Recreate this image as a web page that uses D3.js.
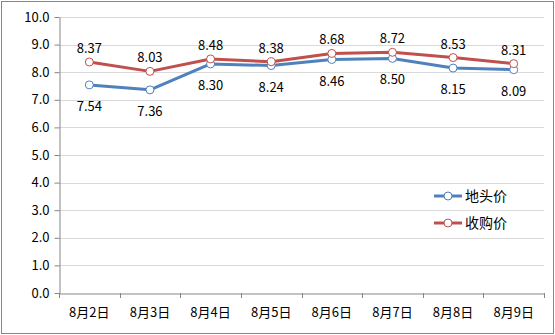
<!DOCTYPE html>
<html><head><meta charset="utf-8">
<script src="https://cdn.jsdelivr.net/npm/d3@7"></script>
<style>body{margin:0;background:#fff}svg{display:block}text{font-family:"Noto Sans CJK SC","Noto Sans",sans-serif}</style>
</head><body><svg id="c" width="555" height="335"></svg>
<script>
const categories = ["8月2日","8月3日","8月4日","8月5日","8月6日","8月7日","8月8日","8月9日"];
const ditou = [7.54,7.36,8.30,8.24,8.46,8.50,8.15,8.09];
const shougou = [8.37,8.03,8.48,8.38,8.68,8.72,8.53,8.31];
const yTicks = [0,1,2,3,4,5,6,7,8,9,10];
const seriesNames = ["地头价","收购价"];
const colors = ["#4f81bd","#c0504d"];

const svg = d3.select("#c");
svg.append("rect").attr("x",1.5).attr("y",1.5).attr("width",552).attr("height",332).attr("fill","#fff").attr("stroke","#868686");
const L=59,R=544,T=17,B=293;
const x = d3.scaleBand().domain(categories).range([L,R]);
const y = d3.scaleLinear().domain([0,10]).range([B,T]);

svg.append("g").selectAll("line").data(yTicks.slice(1)).join("line")
 .attr("x1",L).attr("x2",R).attr("y1",d=>Math.round(y(d))+0.5).attr("y2",d=>Math.round(y(d))+0.5)
 .attr("stroke","#d9d9d9");

const ya = svg.append("g").attr("transform",`translate(${L+0.5},0)`)
 .call(d3.axisLeft(y).tickValues(yTicks).tickFormat(d3.format(".1f")).tickSize(5).tickSizeOuter(0));
ya.select(".domain").attr("stroke","#868686");
ya.selectAll(".tick line").attr("stroke","#868686");
ya.selectAll(".tick text").attr("font-size",13).attr("fill","#000").attr("x",-10);

const xa = svg.append("g").attr("transform",`translate(0,${B+0.5})`)
 .call(d3.axisBottom(x).tickSize(0).tickSizeOuter(0));
xa.select(".domain").attr("stroke","#868686");
xa.selectAll(".tick text").attr("font-size",13).attr("fill","#000").attr("dy","1.6em");
const bounds = categories.map(c=>x(c)).concat([R]);
svg.append("g").selectAll("line").data(bounds).join("line")
 .attr("x1",d=>Math.round(d)+0.5).attr("x2",d=>Math.round(d)+0.5).attr("y1",B).attr("y2",B+5).attr("stroke","#868686");

const cx = c=>x(c)+x.bandwidth()/2;
const series=[ditou,shougou];
const line = d3.line().x((d,i)=>cx(categories[i])).y(d=>y(d));
series.forEach((s,k)=>{
  svg.append("path").datum(s).attr("d",line).attr("fill","none").attr("stroke",colors[k]).attr("stroke-width",3).attr("stroke-linejoin","round");
});
series.forEach((s,k)=>{
  svg.append("g").selectAll("circle").data(s).join("circle")
   .attr("cx",(d,i)=>cx(categories[i])).attr("cy",d=>y(d)).attr("r",4)
   .attr("fill","#fff").attr("stroke",colors[k]).attr("stroke-width",1);
  svg.append("g").selectAll("text").data(s).join("text")
   .attr("x",(d,i)=>cx(categories[i])).attr("y",d=>y(d)+(k===0?26:-9))
   .attr("text-anchor","middle").attr("font-size",13).attr("fill","#000")
   .text(d=>d.toFixed(2));
});

seriesNames.forEach((n,k)=>{
  const ly = 196 + k*27;
  svg.append("line").attr("x1",434).attr("x2",462).attr("y1",ly).attr("y2",ly).attr("stroke",colors[k]).attr("stroke-width",3);
  svg.append("circle").attr("cx",448).attr("cy",ly).attr("r",4).attr("fill","#fff").attr("stroke",colors[k]);
  svg.append("text").attr("x",465).attr("y",ly+5).attr("font-size",14).attr("fill","#000").text(n);
});
</script></body></html>
